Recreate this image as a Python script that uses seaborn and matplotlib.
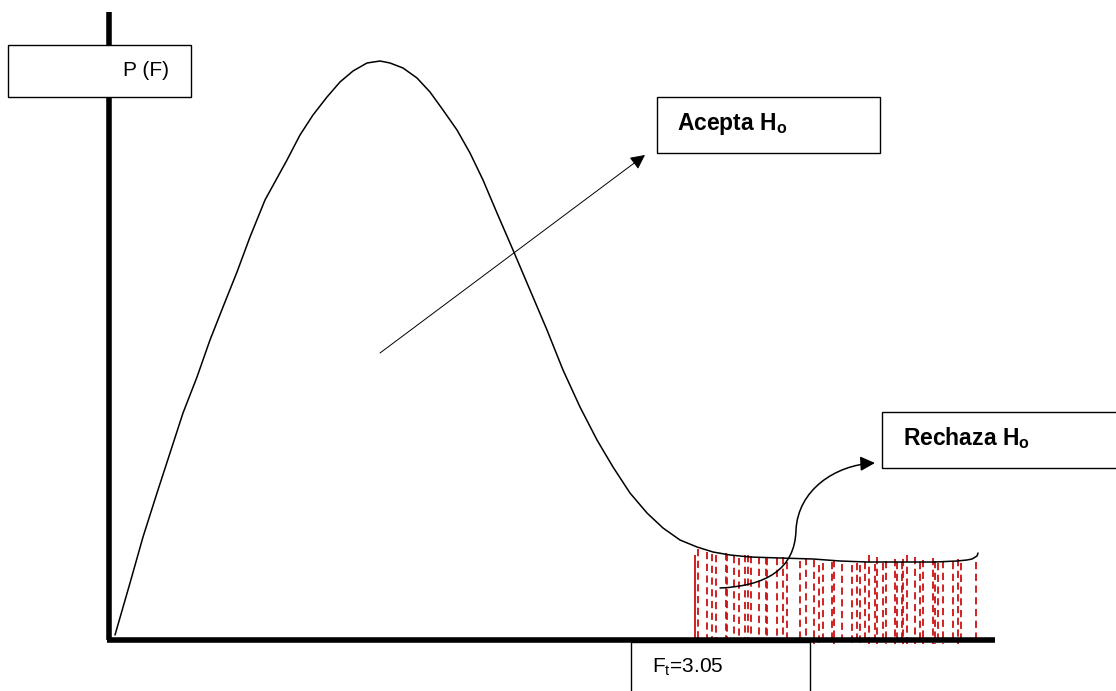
import matplotlib
matplotlib.use("Agg")
import matplotlib.pyplot as plt
import seaborn as sns
from matplotlib.patches import Rectangle, FancyArrowPatch
from matplotlib.path import Path

# Curve of the F distribution sketch (pixel coordinates)
curve_x = [115, 130, 143, 157, 170, 183, 197, 210, 223, 237, 250, 265, 287, 300,
           313, 327, 340, 353, 367, 380, 390, 403, 417, 430, 443, 457, 470, 483,
           497, 513, 530, 547, 563, 580, 597, 613, 630, 647, 663, 680, 697, 713,
           730, 750, 780, 813, 840, 867, 890, 913, 935, 957, 967, 972, 977, 978]
curve_y = [635, 583, 537, 493, 453, 413, 377, 340, 307, 272, 237, 200, 160, 135,
           115, 97, 82, 71, 63, 61, 63, 68, 78, 92, 110, 130, 153, 180,
           213, 250, 290, 330, 370, 407, 440, 467, 493, 513, 528, 540, 547, 552,
           555, 557, 558, 559, 561, 562, 562, 562, 562, 561, 560, 559, 556, 553]

# Rejection region hatching (red dashed verticals)
dash_x = [695, 698, 707, 712, 716, 726, 727, 734, 739, 745, 748, 751, 759, 766,
          767, 777, 783, 787, 800, 806, 814, 819, 823, 832, 834, 842, 852, 857,
          860, 865, 869, 875, 877, 883, 886, 895, 897, 902, 903, 907, 915, 920,
          923, 933, 935, 938, 943, 953, 958, 961, 976]
dash_top = [555, 549, 552, 554, 555, 553, 554, 556, 558, 555, 555, 556, 557, 557,
            558, 558, 557, 562, 561, 558, 560, 565, 563, 562, 560, 564, 565, 563,
            565, 562, 555, 564, 557, 563, 561, 559, 562, 562, 559, 555, 557, 562,
            560, 558, 561, 563, 561, 562, 559, 563, 562]

# Labels
label_y = "P (F)"
label_accept = r"Acepta H$_{\mathbf{o}}$"
label_reject = r"Rechaza H$_{\mathbf{o}}$"
label_ft = r"F$_{\mathrm{t}}$=3.05"

sns.set_theme(style="white")
plt.rcParams['font.family'] = ['Liberation Sans', 'DejaVu Sans']
plt.rcParams['text.color'] = 'black'
plt.rcParams['mathtext.fontset'] = 'custom'
plt.rcParams['mathtext.rm'] = 'Liberation Sans'
plt.rcParams['mathtext.bf'] = 'Liberation Sans:bold'

fig = plt.figure(figsize=(11.16, 6.91), dpi=100)
ax = fig.add_axes([0, 0, 1, 1])
ax.set_xlim(0, 1116)
ax.set_ylim(691, 0)
ax.axis('off')

# red hatching
ax.vlines(dash_x[0], dash_top[0], 641, colors='#cc1111', lw=1.3, zorder=2)
ax.vlines(dash_x[1:], dash_top[1:], 644, colors='#cc1111', lw=1.3,
          linestyles=(0, (4, 2.5)), zorder=2)

# axes of the sketch
ax.plot([109, 109], [12, 640], color='black', lw=4, solid_capstyle='butt', zorder=3)
ax.plot([107, 995], [640, 640], color='black', lw=4, solid_capstyle='butt', zorder=3)

# the curve
sns.lineplot(x=curve_x, y=curve_y, sort=False, estimator=None, color='black',
             lw=1.1, ax=ax, zorder=4)

# boxes
boxes = [(8, 45, 183, 52), (657, 97, 223, 56), (882, 412, 240, 56), (631, 642, 179, 60)]
for bx, by, bw, bh in boxes:
    ax.add_patch(Rectangle((bx, by), bw, bh, facecolor='white', edgecolor='black',
                           lw=1.0, zorder=5))

ax.text(123, 76, label_y, fontsize=15, va='baseline', ha='left', zorder=6)
ax.text(677, 130, label_accept, fontsize=16.5, fontweight='bold', va='baseline', zorder=6)
ax.text(903, 445, label_reject, fontsize=16.5, fontweight='bold', va='baseline', zorder=6)
ax.text(652, 672, label_ft, fontsize=15, va='baseline', zorder=6)

# straight arrow
ax.annotate("", xy=(645, 155), xytext=(380, 353),
            arrowprops=dict(arrowstyle='-|>', mutation_scale=22, lw=0.7,
                            color='black', shrinkA=0, shrinkB=0), zorder=6)

# curved arrow
verts = [(720, 588), (765, 586), (795, 570), (796, 530),
         (798, 490), (835, 465), (875, 463)]
codes = [Path.MOVETO, Path.CURVE4, Path.CURVE4, Path.CURVE4,
         Path.CURVE4, Path.CURVE4, Path.CURVE4]
ax.add_patch(FancyArrowPatch(path=Path(verts, codes), arrowstyle='-|>',
                             mutation_scale=22, lw=1.1, color='black', zorder=6))

fig.savefig("out.png", dpi=100)
